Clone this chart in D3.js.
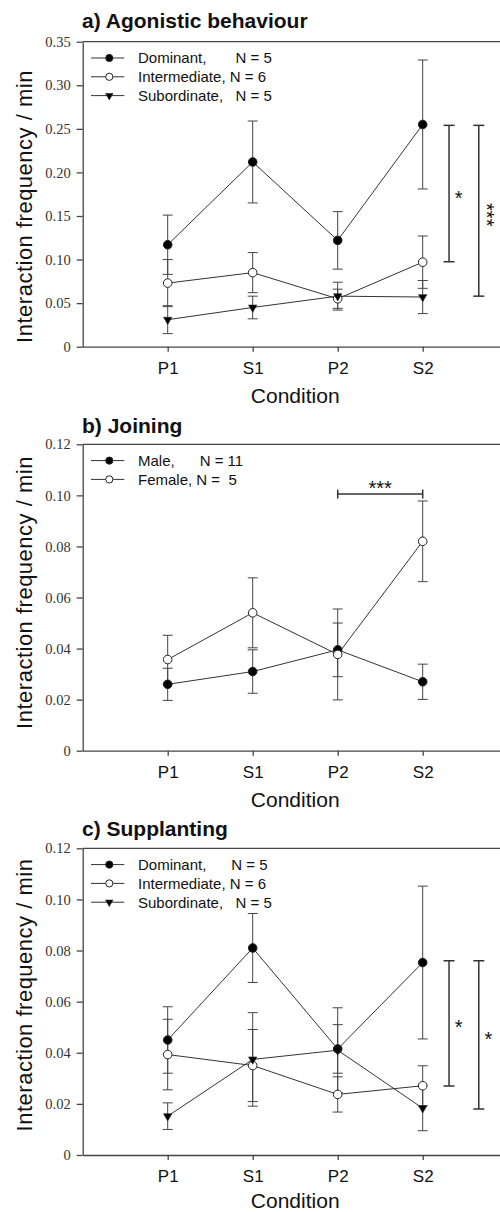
<!DOCTYPE html>
<html>
<head>
<meta charset="utf-8">
<script src="https://cdn.jsdelivr.net/npm/d3@7"></script>
<style>
  body { margin: 0; background: #fff; }
  svg { display: block; }
  .title { font-family: "Liberation Sans", Arial, sans-serif; font-weight: bold; font-size: 21px; fill: #111; }
  .yLabel { font-family: "Liberation Sans", Arial, sans-serif; font-size: 22px; letter-spacing: 0.5px; fill: #111; }
  .xLabel { font-family: "Liberation Sans", Arial, sans-serif; font-size: 21px; fill: #111; }
  .legendText { font-family: "Liberation Sans", Arial, sans-serif; font-size: 15px; fill: #111; white-space: pre; }
  .star { font-family: "Liberation Sans", Arial, sans-serif; font-size: 20px; fill: #111; }
  .yAxis path, .yAxis line, .xAxis path, .xAxis line { stroke: #444; stroke-width: 1.3; }
</style>
</head>
<body>
<div id="chart"></div>
<script>
var svgWidth = 500;
var svgHeight = 1212;

// Data (means and SE)
var conditions = ["P1", "S1", "P2", "S2"];

// a) Agonistic behaviour
var agoTicks = [0, 0.05, 0.10, 0.15, 0.20, 0.25, 0.30, 0.35];
var agoDominant = [0.117, 0.212, 0.122, 0.255];
var agoDominantSE = [0.034, 0.047, 0.033, 0.074];
var agoIntermediate = [0.073, 0.085, 0.055, 0.097];
var agoIntermediateSE = [0.027, 0.023, 0.011, 0.030];
var agoSubordinate = [0.031, 0.045, 0.058, 0.057];
var agoSubordinateSE = [0.016, 0.013, 0.016, 0.019];
var agoLegend = ["Dominant,       N = 5", "Intermediate, N = 6", "Subordinate,   N = 5"];
var agoSig = [[0.254, 0.0975, "*"], [0.254, 0.058, "***"]];

// b) Joining
var joinTicks = [0, 0.02, 0.04, 0.06, 0.08, 0.10, 0.12];
var joinMale = [0.026, 0.031, 0.0395, 0.027];
var joinMaleSE = [0.0063, 0.0085, 0.0105, 0.0069];
var joinFemale = [0.0357, 0.054, 0.0377, 0.082];
var joinFemaleSE = [0.0095, 0.0137, 0.0178, 0.0158];
var joinLegend = ["Male,      N = 11", "Female, N =  5"];
var joinSig = [[0.1005, "***"]];

// c) Supplanting
var supTicks = [0, 0.02, 0.04, 0.06, 0.08, 0.10, 0.12];
var supDominant = [0.045, 0.081, 0.0415, 0.0753];
var supDominantSE = [0.013, 0.0135, 0.0095, 0.0299];
var supIntermediate = [0.0393, 0.035, 0.0237, 0.0271];
var supIntermediateSE = [0.0138, 0.0141, 0.0069, 0.0078];
var supSubordinate = [0.0152, 0.0374, 0.041, 0.0183];
var supSubordinateSE = [0.0052, 0.0183, 0.0166, 0.0088];
var supLegend = ["Dominant,      N = 5", "Intermediate, N = 6", "Subordinate,   N = 5"];
var supSig = [[0.076, 0.027, "*"], [0.076, 0.018, "*"]];

var svg = d3.select("#chart")
  .append("svg")
  .attr("width", svgWidth)
  .attr("height", svgHeight);

// shared x scale: categories sit at 1..4
var xScale = d3.scaleLinear()
  .domain([0, 5])
  .range([82.7, 507.7]);

var filled = { shape: "circle", fill: "#000" };
var open = { shape: "circle", fill: "#fff" };
var tri = { shape: "triangle", fill: "#000" };

var panels = [
  {
    title: "a) Agonistic behaviour", top: 41.7, bottom: 346.7, titleBase: 27.5,
    yLabelMid: 206.5, xLabelOff: 56,
    ymax: 0.35, ticks: agoTicks, legend: agoLegend,
    series: [
      Object.assign({ mean: agoDominant, se: agoDominantSE }, filled),
      Object.assign({ mean: agoIntermediate, se: agoIntermediateSE }, open),
      Object.assign({ mean: agoSubordinate, se: agoSubordinateSE }, tri)
    ],
    vSig: agoSig
  },
  {
    title: "b) Joining", top: 444.3, bottom: 750.7, titleBase: 433.2,
    yLabelMid: 592.5, xLabelOff: 56,
    ymax: 0.12, ticks: joinTicks, legend: joinLegend,
    series: [
      Object.assign({ mean: joinMale, se: joinMaleSE }, filled),
      Object.assign({ mean: joinFemale, se: joinFemaleSE }, open)
    ],
    hSig: joinSig
  },
  {
    title: "c) Supplanting", top: 848.3, bottom: 1155, titleBase: 835.8,
    yLabelMid: 995, xLabelOff: 53,
    ymax: 0.12, ticks: supTicks, legend: supLegend,
    series: [
      Object.assign({ mean: supDominant, se: supDominantSE }, filled),
      Object.assign({ mean: supIntermediate, se: supIntermediateSE }, open),
      Object.assign({ mean: supSubordinate, se: supSubordinateSE }, tri)
    ],
    vSig: supSig
  }
];

function marker(sel, s, big) {
  if (s.shape === "circle") {
    sel.append("circle")
      .attr("r", big ? 4.3 : 3.6)
      .attr("fill", s.fill)
      .attr("stroke", "#222")
      .attr("stroke-width", 1);
  } else {
    sel.append("path")
      .attr("d", d3.symbol().type(d3.symbolTriangle).size(big ? 30 : 24)())
      .attr("transform", "rotate(180)")
      .attr("fill", s.fill)
      .attr("stroke", "#222")
      .attr("stroke-width", 0.6);
  }
}

function drawPanel(p) {
  var yScale = d3.scaleLinear()
    .domain([0, p.ymax])
    .range([p.bottom, p.top]);

  var g = svg.append("g");

  // title
  g.append("text")
    .attr("class", "title")
    .attr("x", 82)
    .attr("y", p.titleBase)
    .text(p.title);

  // top frame line
  g.append("line")
    .attr("x1", xScale(0)).attr("x2", xScale(5))
    .attr("y1", p.top).attr("y2", p.top)
    .attr("stroke", "#444").attr("stroke-width", 1.3);

  // axes
  g.append("g")
    .attr("class", "yAxis")
    .attr("transform", `translate(${xScale(0)},0)`)
    .call(d3.axisLeft(yScale)
      .tickValues(p.ticks)
      .tickSize(6)
      .tickSizeOuter(0)
      .tickPadding(6)
      .tickFormat(d => d === 0 ? "0" : d.toFixed(2)))
    .attr("font-family", "'Liberation Serif', 'Times New Roman', serif")
    .attr("font-size", 14.5)
    .selectAll("text").attr("fill", "#333");

  g.append("g")
    .attr("class", "xAxis")
    .attr("transform", `translate(0,${p.bottom})`)
    .call(d3.axisBottom(xScale)
      .tickValues([1, 2, 3, 4])
      .tickSize(5)
      .tickSizeOuter(0)
      .tickPadding(10)
      .tickFormat((d, i) => conditions[i]))
    .attr("font-family", "'Liberation Sans', Arial, sans-serif")
    .attr("font-size", 17)
    .selectAll("text").attr("fill", "#111");

  // axis labels
  g.append("text")
    .attr("class", "yLabel")
    .attr("transform", `translate(31.5,${p.yLabelMid}) rotate(-90)`)
    .attr("text-anchor", "middle")
    .text("Interaction frequency / min");

  g.append("text")
    .attr("class", "xLabel")
    .attr("x", xScale(2.5))
    .attr("y", p.bottom + p.xLabelOff)
    .attr("text-anchor", "middle")
    .text("Condition");

  var line = d3.line()
    .x((d, i) => xScale(i + 1))
    .y(d => yScale(d));

  // connecting lines
  p.series.forEach(function(s) {
    g.append("path")
      .datum(s.mean)
      .attr("d", line)
      .attr("fill", "none")
      .attr("stroke", "#333")
      .attr("stroke-width", 1);
  });

  // error bars
  p.series.forEach(function(s) {
    var eb = g.append("g").selectAll("g")
      .data(s.mean)
      .enter()
      .append("g")
      .attr("stroke", "#444")
      .attr("stroke-width", 1);
    eb.append("line")
      .attr("x1", (d, i) => xScale(i + 1)).attr("x2", (d, i) => xScale(i + 1))
      .attr("y1", (d, i) => yScale(d + s.se[i])).attr("y2", (d, i) => yScale(d - s.se[i]));
    eb.append("line")
      .attr("x1", (d, i) => xScale(i + 1) - 5).attr("x2", (d, i) => xScale(i + 1) + 5)
      .attr("y1", (d, i) => yScale(d + s.se[i])).attr("y2", (d, i) => yScale(d + s.se[i]));
    eb.append("line")
      .attr("x1", (d, i) => xScale(i + 1) - 5).attr("x2", (d, i) => xScale(i + 1) + 5)
      .attr("y1", (d, i) => yScale(d - s.se[i])).attr("y2", (d, i) => yScale(d - s.se[i]));
  });

  // markers
  p.series.forEach(function(s) {
    g.append("g").selectAll("g")
      .data(s.mean)
      .enter()
      .append("g")
      .attr("transform", (d, i) => `translate(${xScale(i + 1)},${yScale(d)})`)
      .each(function() { marker(d3.select(this), s, true); });
  });

  // legend
  p.legend.forEach(function(label, i) {
    var ly = p.top + 16.3 + i * 18.8;
    var row = g.append("g");
    row.append("line")
      .attr("x1", 91).attr("x2", 124.3)
      .attr("y1", ly).attr("y2", ly)
      .attr("stroke", "#333").attr("stroke-width", 1);
    marker(row.append("g").attr("transform", `translate(109.3,${ly})`), p.series[i], false);
    row.append("text")
      .attr("class", "legendText")
      .attr("x", 138)
      .attr("y", ly + 5.3)
      .text(label);
  });

  // significance brackets (vertical)
  var sigX = [4.31, 4.66];
  (p.vSig || []).forEach(function(s, i) {
    var sx = xScale(sigX[i]);
    var y1 = yScale(s[0]), y2 = yScale(s[1]);
    var sg = g.append("g").attr("stroke", "#333").attr("stroke-width", 1.5);
    sg.append("line").attr("x1", sx).attr("x2", sx).attr("y1", y1).attr("y2", y2);
    sg.append("line").attr("x1", sx - 5.5).attr("x2", sx + 5.5).attr("y1", y1).attr("y2", y1);
    sg.append("line").attr("x1", sx - 5.5).attr("x2", sx + 5.5).attr("y1", y2).attr("y2", y2);
    var mid = (y1 + y2) / 2;
    if (s[2].length > 1) {
      g.append("text")
        .attr("class", "star")
        .attr("text-anchor", "middle")
        .attr("transform", `translate(${sx + 1},${mid + 4}) rotate(90)`)
        .text(s[2]);
    } else {
      g.append("text")
        .attr("class", "star")
        .attr("text-anchor", "middle")
        .attr("x", sx + 9.5)
        .attr("y", mid + 11)
        .text(s[2]);
    }
  });

  // significance bracket (horizontal)
  (p.hSig || []).forEach(function(s) {
    var hy = yScale(s[0]);
    var sg = g.append("g").attr("stroke", "#333").attr("stroke-width", 1.5);
    sg.append("line").attr("x1", xScale(3)).attr("x2", xScale(4)).attr("y1", hy).attr("y2", hy);
    sg.append("line").attr("x1", xScale(3)).attr("x2", xScale(3)).attr("y1", hy - 4.5).attr("y2", hy + 4.5);
    sg.append("line").attr("x1", xScale(4)).attr("x2", xScale(4)).attr("y1", hy - 4.5).attr("y2", hy + 4.5);
    g.append("text")
      .attr("class", "star")
      .attr("text-anchor", "middle")
      .attr("x", xScale(3.5))
      .attr("y", hy + 0.5)
      .text(s[1]);
  });
}

panels.forEach(drawPanel);
</script>
</body>
</html>
